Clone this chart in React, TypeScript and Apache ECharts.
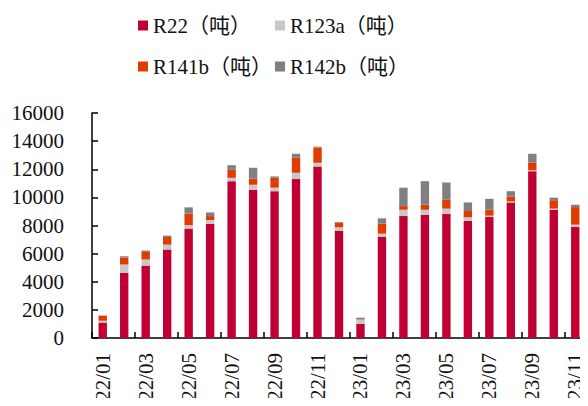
import React, { useEffect, useRef } from "react";
import * as echarts from "echarts";

const categories = [
  "22/01", "22/02", "22/03", "22/04", "22/05", "22/06", "22/07", "22/08", "22/09", "22/10", "22/11", "22/12",
  "23/01", "23/02", "23/03", "23/04", "23/05", "23/06", "23/07", "23/08", "23/09", "23/10", "23/11",
];
const r22 = [1100, 4630, 5150, 6290, 7780, 8130, 11150, 10540, 10440, 11300, 12200, 7610, 1015, 7180, 8670, 8770, 8840, 8320, 8600, 9640, 11860, 9120, 7890];
const r123a = [130, 600, 430, 350, 250, 260, 240, 360, 250, 450, 260, 260, 300, 240, 450, 350, 360, 260, 100, 70, 70, 80, 170];
const r141b = [350, 500, 540, 540, 810, 280, 570, 420, 700, 1060, 1080, 350, 30, 710, 260, 360, 630, 450, 420, 360, 530, 600, 1250];
const r142b = [20, 90, 100, 100, 450, 260, 330, 780, 100, 290, 70, 30, 100, 380, 1310, 1670, 1230, 610, 780, 370, 640, 180, 170];

const seriesNames = ["R22（吨）", "R123a（吨）", "R141b（吨）", "R142b（吨）"];
const colors = ["#C00033", "#C8C8C8", "#E03C00", "#808080"];
const yTicks = { min: 0, max: 16000, interval: 2000 };

const FONT = "'Liberation Serif', 'Times New Roman', 'Noto Sans CJK SC', serif";

export default function App() {
  const ref = useRef<HTMLDivElement>(null);
  useEffect(() => {
    if (!ref.current) return;
    const chart = echarts.init(ref.current, undefined, { renderer: "svg" });
    const values = [r22, r123a, r141b, r142b];
    const legendPos = [
      { left: 138, top: 15 },
      { left: 275, top: 15 },
      { left: 138, top: 56 },
      { left: 275, top: 56 },
    ];
    chart.setOption({
      animation: false,
      color: colors,
      legend: seriesNames.map((n, i) => ({
        data: [n],
        left: legendPos[i].left,
        top: legendPos[i].top,
        icon: "rect",
        itemWidth: 10,
        itemHeight: 10,
        itemGap: 4,
        padding: 0,
        textStyle: { fontFamily: FONT, fontSize: 21, color: "#111" },
      })),
      grid: { left: 92, right: 2, top: 113, bottom: 68, containLabel: false },
      xAxis: {
        type: "category",
        data: categories,
        axisLine: { lineStyle: { color: "#000", width: 1.5 } },
        axisTick: { show: true, inside: true, interval: 1, length: 6, lineStyle: { color: "#000", width: 1.5 } },
        axisLabel: { interval: 1, rotate: 90, margin: 15, fontFamily: FONT, fontSize: 21, color: "#111" },
      },
      yAxis: {
        type: "value",
        min: yTicks.min,
        max: yTicks.max,
        interval: yTicks.interval,
        splitLine: { show: false },
        axisLine: { show: true, lineStyle: { color: "#000", width: 1.5 } },
        axisTick: { show: true, inside: true, length: 6, lineStyle: { color: "#000", width: 1.5 } },
        axisLabel: { margin: 28, fontFamily: FONT, fontSize: 21, color: "#111", formatter: (v: number) => String(v) },
      },
      series: seriesNames.map((n, i) => ({
        name: n,
        type: "bar",
        stack: "total",
        barWidth: "39%",
        data: values[i],
        itemStyle: { color: colors[i] },
      })),
    });
    return () => chart.dispose();
  }, []);
  return <div ref={ref} style={{ width: 588, height: 406, margin: -8 }} />;
}
